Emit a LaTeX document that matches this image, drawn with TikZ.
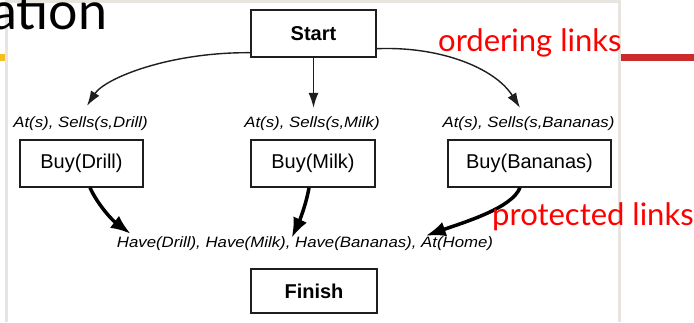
\documentclass[tikz,border=0pt]{standalone}
\usepackage{fontspec}
\setmainfont{Liberation Sans}
\newfontfamily\slidefont{Lato}
\usetikzlibrary{arrows.meta}

\definecolor{framegrey}{RGB}{232,228,224}
\definecolor{accentyellow}{RGB}{246,190,30}
\definecolor{accentred}{RGB}{204,43,43}
\definecolor{inkline}{RGB}{30,30,30}

\tikzset{
  box/.style={draw=inkline, line width=1.4pt, minimum height=47, inner sep=0,
              font=\fontsize{20}{24}\selectfont},
  cond/.style={inner sep=1, font=\itshape\fontsize{15}{17}\selectfont},
  ord/.style={draw=inkline, line width=1.4pt, -{Latex[length=15pt,width=10pt]}},
  prot/.style={draw=black, line width=3.5pt, -{Latex[length=20pt,width=15pt]}},
  note/.style={anchor=base west, inner sep=0, text=red,
               font=\slidefont\fontsize{31}{31}\selectfont},
}

\newcommand{\widetext}[1]{\scalebox{1.12}[1]{#1}}

\begin{document}
\begin{tikzpicture}[x=1pt,y=-1pt]
\useasboundingbox (0,0) rectangle (694,322);
\fill[white] (0,0) rectangle (694,322);

% slide frame and accents
\fill[framegrey] (5,0) rectangle (8,322);
\fill[framegrey] (618,0) rectangle (621,322);
\fill[framegrey] (5,0) rectangle (621,2.5);
\fill[accentyellow] (0,54) rectangle (5,61);
\fill[accentred] (621,54) rectangle (694,61);

% slide title fragment
\node[anchor=base west, inner sep=0, font=\slidefont\fontsize{52}{52}\selectfont] (title) at (-9,29) {ation};

% plan steps
\node[box, minimum width=125] (start)   at (313.5,33.5) {\bfseries Start};
\node[box, minimum width=123] (drill)   at (81.5,163.5) {Buy(Drill)};
\node[box, minimum width=124] (milk)    at (313,163.5)  {Buy(Milk)};
\node[box, minimum width=163] (bananas) at (529.5,163.5) {Buy(Bananas)};
\node[box, minimum width=126, minimum height=44] (finish) at (314,291) {\bfseries Finish};

% preconditions
\node[cond] (predrill)   at (80.5,124)  {\widetext{At(s), Sells(s,Drill)}};
\node[cond] (premilk)    at (312,124)   {\widetext{At(s), Sells(s,Milk)}};
\node[cond] (prebananas) at (528.5,124) {\widetext{At(s), Sells(s,Bananas)}};
\node[cond] (goal)       at (305,244)   {\widetext{Have(Drill), Have(Milk), Have(Bananas), At(Home)}};

% ordering links
\draw[ord] ([yshift=5]start.south west) .. controls (170,52) and (105,78) .. ([xshift=6.5,yshift=10]predrill.north);
\draw[ord] (start.south) -- ([yshift=8]start.south |- premilk.north);
\draw[ord] ([yshift=9]start.south east) .. controls (440,46) and (495,68) .. ([xshift=-8.5,yshift=8]prebananas.north);

% protected links
\draw[prot] ([xshift=8.5]drill.south) .. controls (98,205) and (112,220) .. ([xshift=15,yshift=2]goal.north west);
\draw[prot] ([xshift=-4]milk.south) .. controls (306,205) and (299,222) .. ([xshift=176,yshift=-2]goal.north west);
\draw[prot] ([xshift=-9.5]bananas.south) .. controls (512,208) and (465,222) .. ([xshift=310,yshift=0]goal.north west);

% annotations
\node[note] (ordnote)  at (438,51)  {ordering links};
\node[note] (protnote) at (492,225) {protected links};
\end{tikzpicture}
\end{document}
